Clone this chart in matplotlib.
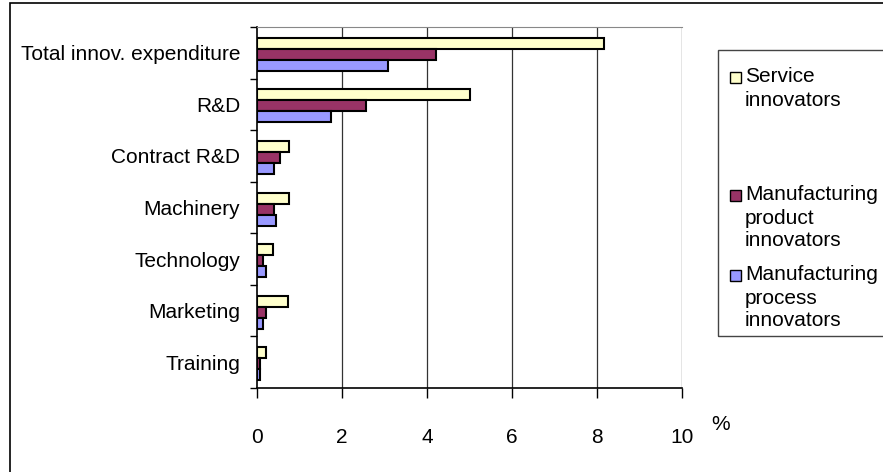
import matplotlib
matplotlib.use("Agg")
import matplotlib.pyplot as plt
from matplotlib.patches import Rectangle
import numpy as np

plt.rcParams['font.family'] = ['Liberation Sans', 'DejaVu Sans']

categories = ["Total innov. expenditure", "R&D", "Contract R&D", "Machinery",
              "Technology", "Marketing", "Training"]
service = [8.16, 5.01, 0.76, 0.76, 0.38, 0.72, 0.22]
mfg_product = [4.21, 2.56, 0.53, 0.41, 0.15, 0.22, 0.07]
mfg_process = [3.08, 1.73, 0.41, 0.45, 0.20, 0.15, 0.08]
series_labels = ["Service\ninnovators", "Manufacturing\nproduct\ninnovators",
                 "Manufacturing\nprocess\ninnovators"]
colors = ["#FFFFCC", "#993366", "#9999FF"]
xticks = [0, 2, 4, 6, 8, 10]

W, H = 883, 472
fig = plt.figure(figsize=(W / 100, H / 100), dpi=100)

# outer chart border
fig.patches.append(Rectangle((10 / W, -0.05), 1.2, 1.05 - 3 / H, transform=fig.transFigure,
                             fill=False, edgecolor="black", lw=1.2))

ax = fig.add_axes([257 / W, 1 - 388 / H, (682 - 257) / W, (388 - 27) / H])

y = np.arange(len(categories))
h = 0.213
for vals, off, c in zip([service, mfg_product, mfg_process], [-h, 0, h], colors):
    ax.barh(y + off + 0.03, vals, height=h, color=c, edgecolor="black", lw=1.5, zorder=3)

ax.set_xlim(0, 10)
ax.set_ylim(len(categories) - 0.5, -0.5)
ax.set_xticks(xticks)
ax.set_xticklabels([str(t) for t in xticks], fontsize=15)
ax.tick_params(axis="x", length=7, width=1, pad=22, direction="out")
for t in xticks[1:]:
    ax.axvline(t, color="#333333", lw=0.9, zorder=1)

ax.set_yticks(y)
ax.set_yticklabels(categories, fontsize=15)
ax.tick_params(axis="y", length=0, pad=12)
ax.set_yticks(np.arange(len(categories) + 1) - 0.5, minor=True)
ax.tick_params(axis="y", which="minor", length=5, width=1, direction="out")

for s in ["left", "bottom"]:
    ax.spines[s].set_color("black")
    ax.spines[s].set_linewidth(1.2)
ax.spines["top"].set_color("#888888")
ax.spines["right"].set_visible(False)

fig.text(711 / W, 1 - 425 / H, "%", fontsize=15, ha="left", va="center")

# legend box
fig.patches.append(Rectangle((718 / W, 1 - 336 / H), 1.0, (336 - 50) / H,
                             transform=fig.transFigure, fill=False,
                             edgecolor="#444444", lw=1.0))
entry_tops = [77, 195, 275]
for lab, c, ty in zip(series_labels, colors, entry_tops):
    fig.patches.append(Rectangle((730 / W, 1 - (ty + 6) / H), 11 / W, 11 / H,
                                 transform=fig.transFigure, facecolor=c,
                                 edgecolor="black", lw=1.0))
    for k, line in enumerate(lab.split("\n")):
        fig.text(745 / W, 1 - (ty + 23 * k) / H, line, fontsize=15,
                 ha="left", va="center")

fig.savefig("out.png", dpi=100)
